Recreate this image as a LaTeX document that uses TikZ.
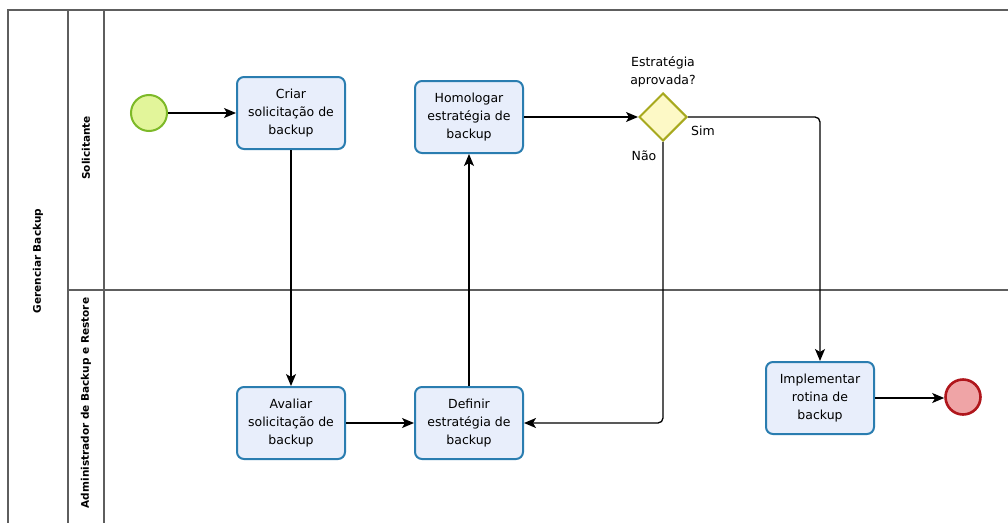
\documentclass[tikz,border=0pt]{standalone}
\usepackage{fontspec}
\setmainfont{DejaVu Sans}
\usetikzlibrary{arrows.meta,shapes.geometric}
\definecolor{taskfill}{HTML}{E8EEFB}
\definecolor{taskdraw}{HTML}{2A7DB0}
\definecolor{startfill}{HTML}{E2F59A}
\definecolor{startdraw}{HTML}{7DB928}
\definecolor{endfill}{HTML}{EFA4A6}
\definecolor{enddraw}{HTML}{B0161C}
\definecolor{gwfill}{HTML}{FDF9C6}
\definecolor{gwdraw}{HTML}{A7A91E}
\definecolor{poolline}{HTML}{5E5E5E}
\tikzset{
  task/.style={draw=taskdraw, fill=taskfill, line width=2pt, rounded corners=7pt,
    minimum width=108pt, minimum height=72pt, align=center, font=\fontsize{12.5}{18}\selectfont, inner sep=2pt},
  startev/.style={circle, draw=startdraw, fill=startfill, line width=2pt, minimum size=36pt, inner sep=0pt},
  endev/.style={circle, draw=enddraw, fill=endfill, line width=2.6pt, minimum size=35pt, inner sep=0pt},
  gateway/.style={diamond, draw=gwdraw, fill=gwfill, line width=2pt, minimum width=48pt, minimum height=48pt, inner sep=0pt, aspect=1},
  flow/.style={draw=black, line width=1.3pt, -{Stealth[length=12pt,width=10pt,inset=3pt]}, rounded corners=5pt},
  pool/.style={draw=poolline, line width=1.2pt},
  lanelabel/.style={rotate=90, font=\bfseries\fontsize{10.5}{13}\selectfont},
  lbl/.style={font=\fontsize{12.5}{18}\selectfont, align=center}
}
\begin{document}
\begin{tikzpicture}[x=1pt,y=-1pt]
\clip (0,0) rectangle (1008,522);
\fill[white] (0,0) rectangle (1008,522);
% pool and lanes
\draw[pool] (8,540) -- (8,10) -- (1020,10);
\draw[pool] (68,10) -- (68,540);
\draw[pool] (104,10) -- (104,540);
\draw[pool] (68,290) -- (1020,290);
\node[lanelabel] (poolname) at (38,261) {Gerenciar Backup};
\node[lanelabel] (lane1) at (86,148) {Solicitante};
\node[lanelabel] (lane2) at (86,403) {Administrador de Backup e Restore};
% nodes
\node[startev] (start) at (149,113) {};
\node[task] (criar) at (291,113) {Criar\\solicitação de\\backup};
\node[task] (homol) at (469,117) {Homologar\\estratégia de\\backup};
\node[gateway] (gw) at (663,117) {};
\node[lbl] (gwlabel) at (663,72) {Estratégia\\aprovada?};
\node[task] (avaliar) at (291,423) {Avaliar\\solicitação de\\backup};
\node[task] (definir) at (469,423) {Definir\\estratégia de\\backup};
\node[task] (impl) at (820,398) {Implementar\\rotina de\\backup};
\node[endev] (end) at (963,397) {};
\node[lbl] (sim) at (703,131) {Sim};
\node[lbl] (nao) at (644,156) {Não};
% flows
\draw[flow] (start) -- (criar);
\draw[flow] (criar) -- (avaliar);
\draw[flow] (avaliar) -- (definir);
\draw[flow] (definir) -- (homol);
\draw[flow] (homol) -- (gw.west);
\draw[flow] (gw.east) -| (impl.north);
\draw[flow] (gw.south) |- (definir.east);
\draw[flow] (impl.east) -- (end.west |- impl.east);
\end{tikzpicture}
\end{document}
